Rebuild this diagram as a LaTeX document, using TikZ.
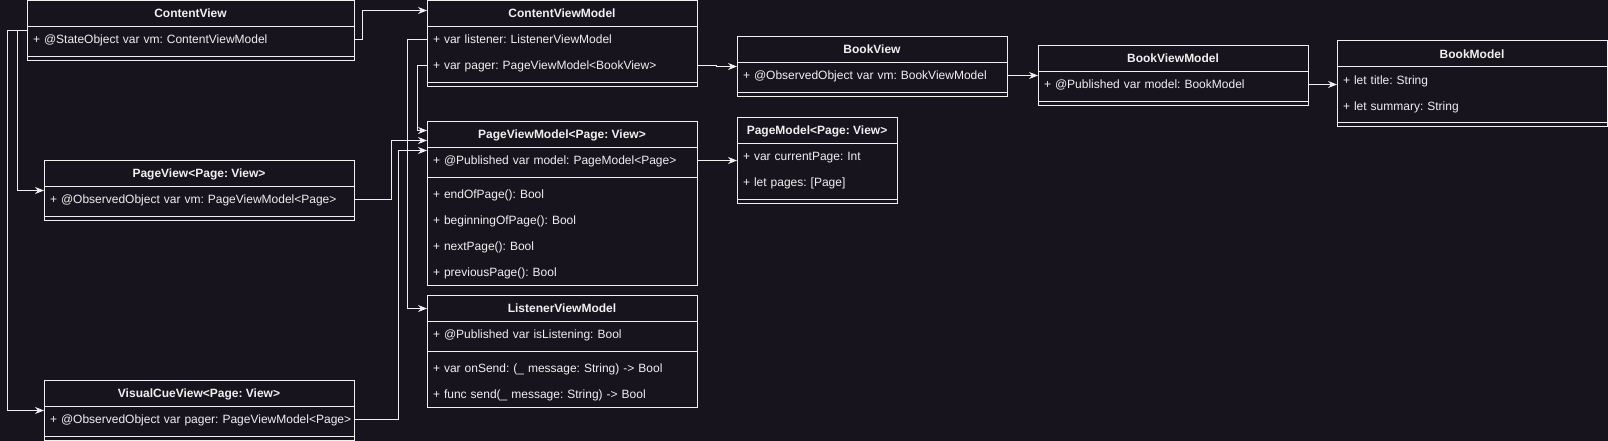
\documentclass[tikz,border=0pt]{standalone}
\usepackage{fontspec}
\setmainfont{Liberation Sans}
\usetikzlibrary{arrows.meta}

\definecolor{bgcol}{HTML}{18141D}
\definecolor{linecol}{HTML}{F0F0F0}

\tikzset{
  head/.style={draw=linecol, line width=1pt, anchor=north west, outer sep=0pt, inner sep=0pt,
    minimum height=26pt, text height=10pt, text depth=1.4pt,
    font=\fontsize{12pt}{14pt}\selectfont\frenchspacing\bfseries, text=linecol},
  row/.style={anchor=north west, outer sep=0pt, inner xsep=6pt, inner ysep=0pt,
    minimum height=26pt, text height=10pt, text depth=1.4pt, text=linecol, align=left},
  box/.style={draw=linecol, line width=1pt},
  link/.style={draw=linecol, line width=1pt, -{Stealth[length=9pt,width=7pt,inset=3pt]}},
}

\begin{document}
\begin{tikzpicture}[x=1pt, y=-1pt, font=\fontsize{12pt}{14pt}\selectfont\frenchspacing]
\fill [bgcol] (0,0) rectangle (1608,441);
\useasboundingbox (0,0) rectangle (1608,441);

% ContentView
\node [head, minimum width=327pt] (cv) at (27,0.5) {ContentView};
\node [row, text width=315pt] (cv-vm) at (27,26.5) {+ @StateObject var vm: ContentViewModel};
\draw [box] (cv.north west) rectangle ++(327,60);
\draw [box] (27,56.5) -- ++(327,0);

% PageView
\node [head, minimum width=310pt] (pv) at (44,160.5) {PageView<Page: View>};
\node [row, text width=298pt] (pv-vm) at (44,186.5) {+ @ObservedObject var vm: PageViewModel<Page>};
\draw [box] (pv.north west) rectangle ++(310,60);
\draw [box] (44,216.5) -- ++(310,0);

% VisualCueView
\node [head, minimum width=310pt] (vcv) at (44,380.5) {VisualCueView<Page: View>};
\node [row, text width=298pt] (vcv-pager) at (44,406.5) {\mbox{+ @ObservedObject var pager: PageViewModel<Page>}};
\draw [box] (vcv.north west) rectangle ++(310,60);
\draw [box] (44,436.5) -- ++(310,0);

% ContentViewModel
\node [head, minimum width=270pt] (cvm) at (427,0.5) {ContentViewModel};
\node [row, text width=258pt] (cvm-listener) at (427,26.5) {+ var listener: ListenerViewModel};
\node [row, text width=258pt] (cvm-pager) at (427,52.5) {+ var pager: PageViewModel<BookView>};
\draw [box] (cvm.north west) rectangle ++(270,86);
\draw [box] (427,82.5) -- ++(270,0);

% PageViewModel
\node [head, minimum width=270pt] (pvm) at (427,121.5) {PageViewModel<Page: View>};
\node [row, text width=258pt] (pvm-model) at (427,147.5) {+ @Published var model: PageModel<Page>};
\node [row, text width=258pt] (pvm-end) at (427,181.5) {+ endOfPage(): Bool};
\node [row, text width=258pt] (pvm-begin) at (427,207.5) {+ beginningOfPage(): Bool};
\node [row, text width=258pt] (pvm-next) at (427,233.5) {+ nextPage(): Bool};
\node [row, text width=258pt] (pvm-prev) at (427,259.5) {+ previousPage(): Bool};
\draw [box] (pvm.north west) rectangle ++(270,164);
\draw [box] (427,177.5) -- ++(270,0);

% ListenerViewModel
\node [head, minimum width=270pt] (lvm) at (427,295.5) {ListenerViewModel};
\node [row, text width=258pt] (lvm-listening) at (427,321.5) {+ @Published var isListening: Bool};
\node [row, text width=258pt] (lvm-onsend) at (427,355.5) {+ var onSend: (\_ message: String) -> Bool};
\node [row, text width=258pt] (lvm-send) at (427,381.5) {+ func send(\_ message: String) -> Bool};
\draw [box] (lvm.north west) rectangle ++(270,112);
\draw [box] (427,351.5) -- ++(270,0);

% BookView
\node [head, minimum width=270pt] (bv) at (737,36.5) {BookView};
\node [row, text width=258pt] (bv-vm) at (737,62.5) {+ @ObservedObject var vm: BookViewModel};
\draw [box] (bv.north west) rectangle ++(270,60);
\draw [box] (737,92.5) -- ++(270,0);

% PageModel
\node [head, minimum width=160pt] (pm) at (737,117.5) {PageModel<Page: View>};
\node [row, text width=148pt] (pm-current) at (737,143.5) {+ var currentPage: Int};
\node [row, text width=148pt] (pm-pages) at (737,169.5) {+ let pages: [Page]};
\draw [box] (pm.north west) rectangle ++(160,86);
\draw [box] (737,199.5) -- ++(160,0);

% BookViewModel
\node [head, minimum width=270pt] (bvm) at (1038,45.5) {BookViewModel};
\node [row, text width=258pt] (bvm-model) at (1038,71.5) {+ @Published var model: BookModel};
\draw [box] (bvm.north west) rectangle ++(270,60);
\draw [box] (1038,101.5) -- ++(270,0);

% BookModel
\node [head, minimum width=270pt] (bm) at (1337,41) {BookModel};
\node [row, text width=258pt] (bm-title) at (1337,67) {+ let title: String};
\node [row, text width=258pt] (bm-summary) at (1337,93) {+ let summary: String};
\draw [box] (bm.north west) rectangle ++(270,86);
\draw [box] (1337,123) -- ++(270,0);

% connectors
\draw [link] (cv-vm.east) -- ++(8,0) |- ([yshift=3pt]cvm.west);
\draw [link] ([yshift=9pt]cv-vm.west) -- ++(-10,0) |- ([yshift=9pt]pv-vm.west);
\draw [link] ([yshift=9pt]cv-vm.west) -- ++(-20,0) |- ([yshift=9pt]vcv-pager.west);
\draw [link] (cvm-listener.west) -- ++(-20,0) |- (lvm.west);
\draw [link] (cvm-pager.west) -- ++(-10,0) |- ([yshift=4pt]pvm.west);
\draw [link] (pv-vm.east) -- ++(37,0) |- ([yshift=-6pt]pvm.west);
\draw [link] (vcv-pager.east) -- ++(44,0) |- ([yshift=-16pt]pvm.west);
\draw [link] (cvm-pager.east) -- ++(19,0) |- ([yshift=9pt]bv-vm.west);
\draw [link] (pvm-model.east) -- (pvm-model.east -| pm.west);
\draw [link] (bv-vm.east) -- (bv-vm.east -| bvm.west);
\draw [link] (bvm-model.east) -- (bvm-model.east -| bm.west);

\end{tikzpicture}
\end{document}
